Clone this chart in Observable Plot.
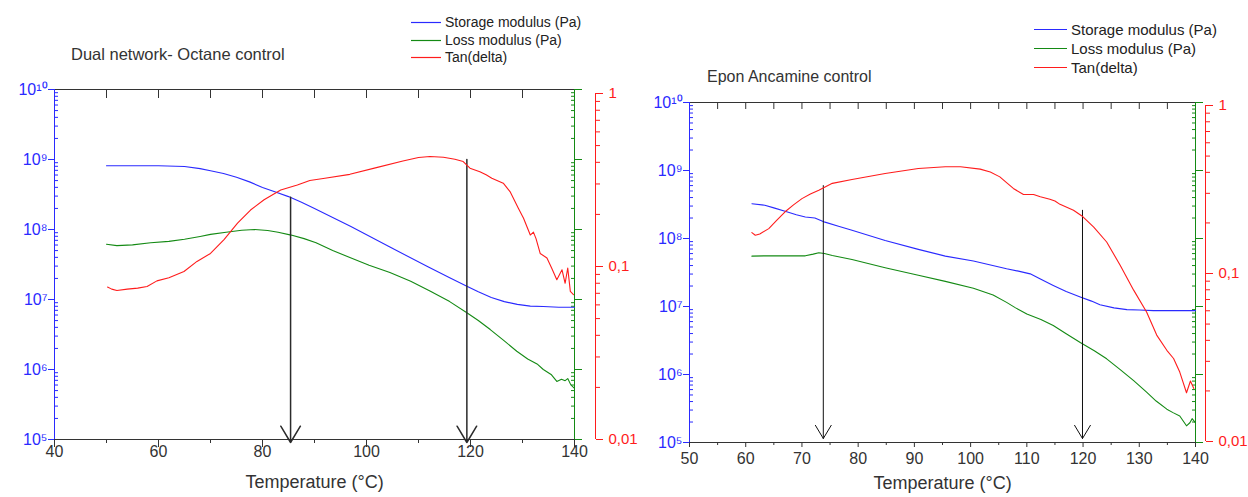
<!DOCTYPE html>
<html><head><meta charset="utf-8">
<script src="https://cdn.jsdelivr.net/npm/d3@7"></script>
<script src="https://cdn.jsdelivr.net/npm/@observablehq/plot@0.6"></script>
<style>
html,body{margin:0;padding:0;background:#fff;}
#root{position:relative;width:1248px;height:497px;overflow:hidden;font-family:"Liberation Sans",Arial,Helvetica,sans-serif;}
.layer{position:absolute;top:0;}
.layer svg{display:block;max-width:none;}
.txt{position:absolute;white-space:nowrap;line-height:1;}
#legendLayer{position:absolute;left:0;top:0;}
</style></head><body><div id="root"></div>
<script>
// ---------------- data ----------------
const legendNames = ["Storage modulus (Pa)", "Loss modulus (Pa)", "Tan(delta)"];
const panelTitles = ["Dual network- Octane control", "Epon Ancamine control"];
const xAxisTitle = "Temperature (°C)";

const modulusDomain = [1e5, 1e10];
const modulusMajor = [1e5, 1e6, 1e7, 1e8, 1e9, 1e10];
const tanDomain = [0.01, 1];
const tanMajor = [0.01, 0.1, 1];
const tanLabels = ["0,01", "0,1", "1"];

const leftXDomain = [40, 140];
const leftXLabels = [40, 60, 80, 100, 120, 140];
const leftXMinor = [50, 70, 90, 110, 130];
const leftXTop = [50, 60, 70, 80, 90, 100, 110, 120, 130];

const rightXDomain = [50, 140];
const rightXLabels = [50, 60, 70, 80, 90, 100, 110, 120, 130, 140];
const rightXMinor = [55, 65, 75, 85, 95, 105, 115, 125, 135];
const rightXTop = [55, 60, 65, 70, 75, 80, 85, 90, 95, 100, 105, 110, 115, 120, 125, 130, 135];

// Left panel: Dual network- Octane control
const leftStorageT = [50, 55, 60, 65, 68, 70, 72.5, 75, 77.5, 80, 82.5, 85, 87.5, 90, 97, 104.5, 112, 116, 119.3, 121.5, 124, 126.5, 129, 131.5, 134, 137, 140];
const leftStorage = [8.13e8, 8.13e8, 8.13e8, 7.94e8, 7.41e8, 6.92e8, 6.31e8, 5.56e8, 4.79e8, 3.98e8, 3.43e8, 2.95e8, 2.45e8, 2.0e8, 1.10e8, 5.62e7, 2.88e7, 2.04e7, 1.55e7, 1.29e7, 1.07e7, 9.33e6, 8.51e6, 8.04e6, 7.94e6, 7.76e6, 7.76e6];
const leftLossT = [50, 52, 55, 58.5, 62, 65, 68, 70, 73, 76, 78.5, 81, 83, 85.5, 88, 90.3, 93.5, 96.8, 100.5, 104.5, 108.5, 112.2, 116, 119.3, 121.5, 123.8, 126.5, 128.9, 131, 132.8, 134, 135.5, 136.6, 137.5, 138.2, 138.7, 139.3, 140];
const leftLoss = [6.17e7, 5.89e7, 6.03e7, 6.46e7, 6.76e7, 7.24e7, 7.94e7, 8.51e7, 9.12e7, 9.77e7, 1.0e8, 9.66e7, 9.12e7, 8.32e7, 7.41e7, 6.46e7, 5.01e7, 3.98e7, 3.09e7, 2.43e7, 1.82e7, 1.32e7, 9.33e6, 6.46e6, 5.01e6, 3.72e6, 2.57e6, 1.82e6, 1.41e6, 1.2e6, 1.0e6, 8.5e5, 6.76e5, 7.24e5, 6.92e5, 7.41e5, 6.03e5, 5.37e5];
const leftTanT = [50.2, 51, 52, 54, 56, 57.8, 59.7, 62, 64.9, 67.4, 70, 72.6, 75.2, 77.7, 80.3, 83.5, 86.7, 89.1, 92, 96.8, 101.9, 107, 110, 112.2, 114.8, 117, 118.6, 119.9, 121.8, 123, 124.1, 126.3, 127.6, 129.2, 130.2, 131.5, 132.1, 132.6, 133.4, 134.7, 135.6, 136.6, 137.6, 138.2, 138.7, 139.2, 139.8];
const leftTan = [0.076, 0.074, 0.0727, 0.074, 0.075, 0.0767, 0.0826, 0.086, 0.0935, 0.107, 0.119, 0.143, 0.178, 0.212, 0.243, 0.277, 0.296, 0.314, 0.324, 0.341, 0.373, 0.407, 0.427, 0.432, 0.428, 0.417, 0.404, 0.370, 0.353, 0.339, 0.324, 0.303, 0.271, 0.217, 0.190, 0.152, 0.158, 0.145, 0.119, 0.112, 0.098, 0.0838, 0.0957, 0.080, 0.098, 0.0718, 0.0687];
const leftArrowT = [85.4, 119.3];
const leftArrowTop = [2.9e8, 1.0e9];

// Right panel: Epon Ancamine control
const rightStorageT = [61.1, 63.4, 65, 67, 69, 70.6, 72.3, 74.1, 76.5, 78.9, 84.8, 90.7, 95.5, 100.5, 106.4, 108.5, 110.6, 112.5, 114.7, 117, 119.5, 121.5, 123, 125.5, 127.8, 130, 132.5, 136, 140];
const rightStorage = [3.24e8, 3.09e8, 2.82e8, 2.51e8, 2.24e8, 2.07e8, 2.0e8, 1.74e8, 1.51e8, 1.32e8, 9.33e7, 6.92e7, 5.5e7, 4.68e7, 3.59e7, 3.31e7, 3.02e7, 2.51e7, 2.04e7, 1.66e7, 1.38e7, 1.2e7, 1.06e7, 9.55e6, 9.0e6, 8.9e6, 8.7e6, 8.7e6, 8.7e6];
const rightLossT = [61.1, 63.4, 67, 70.6, 72, 73, 74, 75.4, 78.9, 84.8, 90.7, 95.5, 100.5, 104, 106.4, 108, 110, 112.5, 114.7, 117, 119.5, 122, 124.2, 126.5, 129, 131.3, 133, 134.9, 136, 137.2, 138.4, 139, 139.4, 140];
const rightLoss = [5.5e7, 5.56e7, 5.56e7, 5.56e7, 5.89e7, 6.17e7, 6.03e7, 5.62e7, 4.9e7, 3.72e7, 2.88e7, 2.34e7, 1.86e7, 1.48e7, 1.15e7, 9.55e6, 7.76e6, 6.46e6, 5.25e6, 3.98e6, 2.95e6, 2.24e6, 1.7e6, 1.2e6, 8.13e5, 5.5e5, 4.07e5, 3.09e5, 2.75e5, 2.45e5, 1.76e5, 1.95e5, 2.24e5, 1.95e5];
const rightTanT = [61.1, 61.7, 62.5, 64.1, 65.5, 67, 68.5, 70, 71.5, 73, 75.4, 78.9, 84.8, 90.7, 95.5, 98.2, 101.7, 103.5, 105.2, 106.5, 107.6, 109.4, 111.2, 112.4, 114.1, 115, 115.9, 118.3, 119.8, 121.9, 124.2, 126.6, 129, 131.3, 133.1, 134.9, 136.1, 137.2, 138.4, 139.1, 139.7];
const rightTan = [0.175, 0.169, 0.172, 0.185, 0.207, 0.233, 0.256, 0.279, 0.297, 0.313, 0.344, 0.363, 0.394, 0.422, 0.432, 0.432, 0.418, 0.402, 0.376, 0.345, 0.321, 0.295, 0.295, 0.286, 0.277, 0.27, 0.258, 0.238, 0.220, 0.189, 0.154, 0.112, 0.0796, 0.059, 0.043, 0.0349, 0.0312, 0.0259, 0.0195, 0.0229, 0.0207];
const rightArrowT = [73.8, 119.9];
const rightArrowTop = [6.0e8, 2.6e8];

// ---------------- styling / rendering ----------------
const blue = "#2a2aff", green = "#148a14", red = "#ff1c1c", ink = "#333333";
const fontFamily = "'Liberation Sans', Arial, Helvetica, sans-serif";
const svgStyle = `background:transparent;overflow:visible;font-family:${fontFamily};`;
const supDigits = "⁰¹²³⁴⁵⁶⁷⁸⁹";
const sup = n => String(n).split("").map(ch => supDigits[+ch]).join("");
const modFmt = v => "10" + sup(Math.round(Math.log10(v)));
const blank = () => "";
const notIn = majors => v => !majors.some(m => Math.abs(v / m - 1) < 1e-9);
const modMinor = d3.scaleLog().domain(modulusDomain).ticks().filter(notIn(modulusMajor));
const tanMinor = d3.scaleLog().domain(tanDomain).ticks().filter(notIn(tanMajor));

function buildPanel(c) {
  const main = Plot.plot({
    width: c.width, height: c.height,
    marginLeft: c.ml, marginRight: c.mr, marginTop: c.mt, marginBottom: c.mb,
    style: svgStyle,
    x: {domain: c.xDomain},
    y: {type: "log", domain: modulusDomain},
    marks: [
      Plot.ruleY([modulusDomain[1]], {stroke: ink}),
      Plot.ruleY([modulusDomain[0]], {stroke: ink}),
      Plot.axisX(c.xMinor, {anchor: "bottom", tickSize: c.xMinorTick, tickFormat: blank, color: ink, label: null}),
      Plot.axisX(c.xLabels, {anchor: "bottom", tickSize: c.xMajorTick, tickPadding: c.xPad, fontSize: 16, color: ink, label: null}),
      Plot.axisX(c.xTop, {anchor: "top", tickSize: c.topTick, dy: c.topTick, tickFormat: blank, color: ink, label: null}),
      Plot.ruleX([c.xDomain[0]], {stroke: blue}),
      Plot.axisY(modMinor, {anchor: "left", tickSize: 4, dx: 4, tickFormat: blank, color: blue, label: null}),
      Plot.axisY(modulusMajor, {anchor: "left", tickSize: 6, tickPadding: 1, tickFormat: modFmt, fontSize: 16, color: blue, label: null}),
      Plot.ruleX([c.xDomain[1]], {stroke: green}),
      Plot.axisY(modMinor, {anchor: "right", tickSize: 4, dx: -4, tickFormat: blank, color: green, label: null}),
      Plot.axisY(modulusMajor, {anchor: "right", tickSize: 7, tickFormat: blank, color: green, label: null}),
      Plot.line(c.storageT, {x: c.storageT, y: c.storage, stroke: blue, strokeWidth: 1.1}),
      Plot.line(c.lossT, {x: c.lossT, y: c.loss, stroke: green, strokeWidth: 1.1}),
      Plot.arrow(c.arrowT, {x1: c.arrowT, x2: c.arrowT, y1: c.arrowTop, y2: () => modulusDomain[0],
        stroke: c.arrowColor, strokeWidth: c.arrowWidth, headAngle: 62, headLength: c.headLength, insetEnd: c.arrowInset}),
      Plot.text([xAxisTitle], {text: d => d, frameAnchor: "bottom", dy: c.titleDy, fontSize: 18, fill: ink})
    ]
  });
  const tan = Plot.plot({
    width: c.width, height: c.height,
    marginLeft: c.ml, marginRight: c.mr, marginTop: c.tmt, marginBottom: c.tmb,
    style: svgStyle,
    x: {domain: c.xDomain, axis: null},
    y: {type: "log", domain: tanDomain},
    marks: [
      Plot.ruleX([c.xDomain[1]], {dx: c.redDx, stroke: red}),
      Plot.axisY(tanMinor, {anchor: "right", dx: c.redDx, tickSize: 4, tickFormat: blank, color: red, label: null}),
      Plot.axisY(tanMajor, {anchor: "right", dx: c.redDx, tickSize: 7, tickPadding: 6,
        tickFormat: v => tanLabels[tanMajor.indexOf(v)], fontSize: 15, color: red, label: null}),
      Plot.line(c.tanT, {x: c.tanT, y: c.tan, stroke: red, strokeWidth: 1.1})
    ]
  });
  return [main, tan];
}

const panels = [
  {left: 0, width: 624, height: 497, ml: 54, mr: 50, mt: 89, mb: 58, tmt: 93, tmb: 58,
   xDomain: leftXDomain, xLabels: leftXLabels, xMinor: leftXMinor, xTop: leftXTop,
   xMajorTick: 8, xMinorTick: 4, xPad: -2, topTick: 8, redDx: 21, titleDy: 48,
   storageT: leftStorageT, storage: leftStorage, lossT: leftLossT, loss: leftLoss, tanT: leftTanT, tan: leftTan,
   arrowT: leftArrowT, arrowTop: leftArrowTop, arrowColor: "#2b2b2b", arrowWidth: 1.5, headLength: 19, arrowInset: -3},
  {left: 624, width: 624, height: 497, ml: 65, mr: 53, mt: 102, mb: 55, tmt: 105, tmb: 56,
   xDomain: rightXDomain, xLabels: rightXLabels, xMinor: rightXMinor, xTop: rightXTop,
   xMajorTick: 5, xMinorTick: 3, xPad: 5, topTick: 6, redDx: 10, titleDy: 46,
   storageT: rightStorageT, storage: rightStorage, lossT: rightLossT, loss: rightLoss, tanT: rightTanT, tan: rightTan,
   arrowT: rightArrowT, arrowTop: rightArrowTop, arrowColor: "#111111", arrowWidth: 1, headLength: 23, arrowInset: 4}
];

const root = document.getElementById("root");
for (const p of panels) {
  for (const svg of buildPanel(p)) {
    const div = document.createElement("div");
    div.className = "layer";
    div.style.left = p.left + "px";
    div.appendChild(svg);
    root.appendChild(div);
  }
}

// titles (HTML text above the plots)
function addText(str, x, cy, fs, color) {
  const s = document.createElement("div");
  s.className = "txt";
  s.textContent = str;
  s.style.left = x + "px";
  s.style.top = Math.round(cy - 0.49 * fs) + "px";
  s.style.fontSize = fs + "px";
  s.style.color = color;
  root.appendChild(s);
}
addText(panelTitles[0], 71, 54, 16.5, ink);
addText(panelTitles[1], 707, 77, 16, ink);

// legends: swatch lines in a small top-layer SVG, names as HTML text
const legendColors = [blue, green, red];
const legends = [
  {x: 411, w: 30, rows: [22, 40, 57], fs: 14},
  {x: 1034, w: 33, rows: [29, 48, 67], fs: 15}
];
const NS = "http://www.w3.org/2000/svg";
const lsvg = document.createElementNS(NS, "svg");
lsvg.setAttribute("id", "legendLayer");
lsvg.setAttribute("width", 1248);
lsvg.setAttribute("height", 90);
for (const lg of legends) {
  legendNames.forEach((name, i) => {
    const ln = document.createElementNS(NS, "line");
    ln.setAttribute("x1", lg.x);
    ln.setAttribute("x2", lg.x + lg.w);
    ln.setAttribute("y1", lg.rows[i] + 0.5);
    ln.setAttribute("y2", lg.rows[i] + 0.5);
    ln.setAttribute("stroke", legendColors[i]);
    ln.setAttribute("stroke-width", 1.2);
    lsvg.appendChild(ln);
  });
}
root.appendChild(lsvg);
for (const lg of legends) {
  legendNames.forEach((name, i) => addText(name, lg.x + lg.w + 4, lg.rows[i], lg.fs, "#222"));
}
</script></body></html>
